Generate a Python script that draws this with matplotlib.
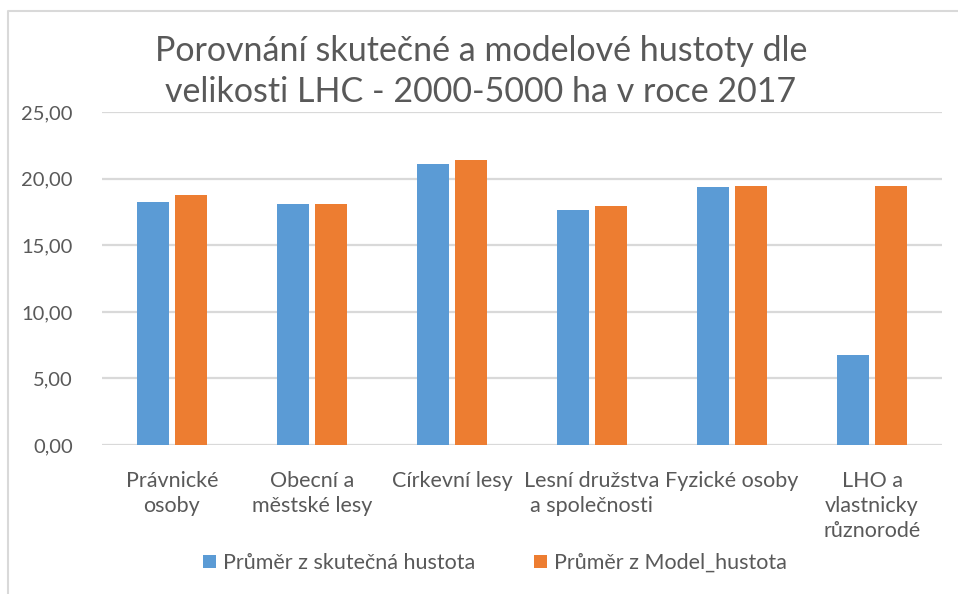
import matplotlib
matplotlib.use("Agg")
import matplotlib.pyplot as plt
from matplotlib.patches import Patch
from matplotlib.lines import Line2D
import numpy as np

categories = ["Právnické\nosoby", "Obecní a\nměstské lesy", "Církevní lesy",
              "Lesní družstva\na společnosti", "Fyzické osoby",
              "LHO a\nvlastnicky\nrůznorodé"]
skutecna = [18.24, 18.14, 21.14, 17.69, 19.41, 6.79]
model = [18.81, 18.14, 21.42, 17.96, 19.49, 19.49]
series_names = ["Průměr z skutečná hustota", "Průměr z Model_hustota"]
yticks = [0, 5, 10, 15, 20, 25]
ytick_labels = ["0,00", "5,00", "10,00", "15,00", "20,00", "25,00"]
title_lines = ["Porovnání skutečné a modelové hustoty dle",
               "velikosti LHC - 2000-5000 ha v roce 2017"]

BLUE = "#5B9BD5"
ORANGE = "#ED7D31"
GRAY = "#595959"
FONT = ["Lato", "DejaVu Sans"]
plt.rcParams["font.family"] = FONT

W, H = 958, 594
fig = plt.figure(figsize=(W / 100, H / 100), dpi=100)
ax = fig.add_axes([102 / W, 1 - 445 / H, 840 / W, (445 - 112.3) / H])

x = np.arange(len(categories))
bw = 0.228
off = 0.137
ax.bar(x - off, skutecna, width=bw, color=BLUE, zorder=3)
ax.bar(x + off, model, width=bw, color=ORANGE, zorder=3)

ax.set_xlim(-0.5, len(categories) - 0.5)
ax.set_ylim(0, 25)
ax.set_yticks(yticks)
ax.set_yticklabels(ytick_labels)
ax.set_xticks(x)
ax.set_xticklabels(categories, linespacing=1.3, va="top")
ax.tick_params(axis="both", length=0, colors=GRAY)
ax.tick_params(axis="y", pad=21, labelsize=14.5)
ax.tick_params(axis="x", pad=19, labelsize=15.5)
ax.grid(axis="y", color="#D9D9D9", linewidth=1.6, zorder=0)
for s in ax.spines.values():
    s.set_visible(False)

for yb, line in zip([61, 102], title_lines):
    fig.text(481 / W, 1 - yb / H, line, ha="center", va="baseline", fontsize=24.5,
             color=GRAY)

handles = [Patch(facecolor=BLUE), Patch(facecolor=ORANGE)]
leg = fig.legend(handles, series_names, loc="center", bbox_to_anchor=(495 / W, 1 - 563 / H),
                 ncol=2, frameon=False, fontsize=15.5, handlelength=0.6, handleheight=0.6,
                 handletextpad=0.35, columnspacing=2.7)
for t in leg.get_texts():
    t.set_color(GRAY)

# chart frame
fig.add_artist(Line2D([8 / W, 8 / W, 1], [0, 1 - 11 / H, 1 - 11 / H],
                      transform=fig.transFigure, color="#D9D9D9", linewidth=1.5))

fig.savefig("out.png", dpi=100)
